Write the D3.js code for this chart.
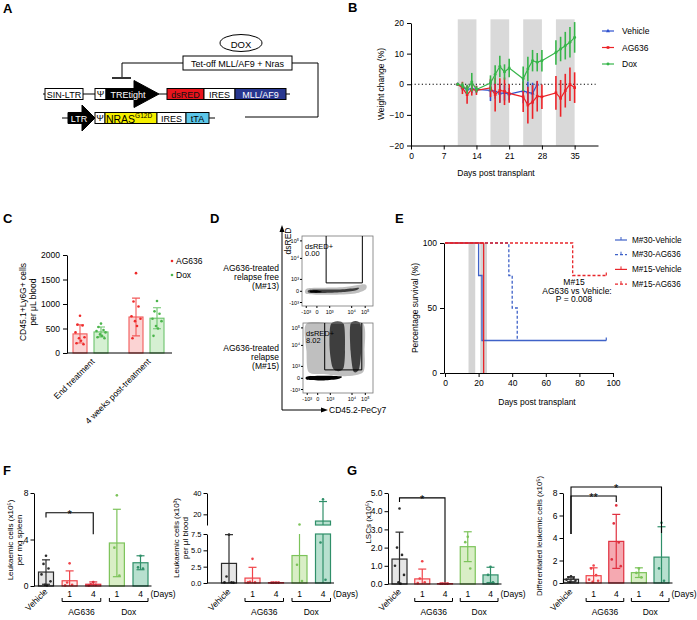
<!DOCTYPE html>
<html lang="en">
<head>
<meta charset="utf-8">
<title>Figure</title>
<script src="https://cdn.jsdelivr.net/npm/d3@7/dist/d3.min.js"></script>
<style>
  body { margin: 0; background: #fff; }
  svg { font-family: "Liberation Sans", Arial, sans-serif; }
</style>
</head>
<body>
<script>
// ---------- B: weight change ----------
var bBands = [[10, 14], [17, 21], [24, 28], [31, 35]];
var vehDays = [10, 11, 12, 13, 14, 17, 18, 19, 20, 21, 24, 25, 26, 27];
var vehMean = [0, -1, -1.7, -1.4, -1.7, -2, -2.2, -3, -2.8, -3.2, -2.2, -2.6, -3, 0];
var vehSd   = [0.4, 1, 1.2, 1.5, 1.2, 3.5, 2.5, 3, 2.5, 2, 4, 3.5, 3.5, 1];
var trtDays = [10, 11, 12, 13, 14, 17, 18, 19, 20, 21, 24, 25, 26, 27, 28, 31, 32, 33, 34, 35];
var agMean  = [0, -1.2, -3.4, -1.7, -2, -1.2, -3.4, -2, -2.3, -3, -4.1, -6.8, -5.8, -3.9, -4.1, -2.8, -4.6, -2.1, 0, -1.1];
var agSd    = [0.4, 2, 3, 2, 1.5, 3, 5.5, 4, 4.5, 3, 5, 6, 5.5, 5, 4, 5.5, 6, 5.5, 5.5, 5];
var doxMean = [0, -0.4, -1.7, 0.7, -1.7, 0.4, 3.2, 5.8, 4, 5.3, 1.8, 5, 7.7, 7.2, 7.7, 10.4, 11.5, 12.6, 13.7, 15.3];
var doxSd   = [0.4, 1, 1.5, 3, 1, 2.5, 3, 3.5, 2.5, 3, 4, 4, 3.5, 3, 3.5, 4, 4, 4.5, 5, 5];

// ---------- C: CD45.1+Ly6G+ cells ----------
var cGroups = ["End treatment", "4 weeks post-treatment"];
var cAgMean = [390, 735];
var cAgSd = [185, 385];
var cDoxMean = [430, 710];
var cDoxSd = [100, 215];
var cAgPts = [[760, 580, 560, 420, 320, 300, 250, 200, 180], [1630, 1050, 950, 750, 700, 650, 550, 300]];
var cDoxPts = [[600, 530, 470, 450, 420, 380, 350, 320, 300], [1060, 850, 800, 700, 650, 550, 500, 350]];

// ---------- D: flow plots (outlines of the dot clouds, as fractions of each plot) ----------
var flowTickLabels = ["-10³", "0", "10³", "10⁴", "10⁵"];
var flowTickY = [0.05, 0.21, 0.38, 0.68, 0.93];
var flowTickX = [0.06, 0.21, 0.39, 0.70, 0.89];
var flowNames = [["AG636-treated", "relapse free", "(M#13)"], ["AG636-treated", "relapse", "(M#15)"]];
var flowPct = ["0.00", "8.02"];
var flowGateX = [[0.34, 0.85], [0.31, 0.84]];
var flowGateY = [0.33, 0.33];
var flowHalo = [
  [[[0.07, 0.17], [0.4, 0.16], [0.75, 0.18], [0.9, 0.24], [0.88, 0.31], [0.6, 0.27], [0.3, 0.26], [0.07, 0.25]]],
  [[[0.05, 0.99], [0.5, 0.99], [0.86, 0.99], [0.88, 0.6], [0.86, 0.3], [0.6, 0.24], [0.3, 0.27], [0.08, 0.3], [0.05, 0.6]]]
];
var flowCore = [
  [[[0.1, 0.19], [0.3, 0.185], [0.55, 0.195], [0.75, 0.22], [0.8, 0.26], [0.6, 0.24], [0.3, 0.235], [0.1, 0.23]]],
  [[[0.4, 0.99], [0.58, 0.99], [0.6, 0.6], [0.58, 0.36], [0.5, 0.31], [0.42, 0.37], [0.38, 0.65]],
   [[0.68, 0.99], [0.82, 0.99], [0.83, 0.6], [0.8, 0.34], [0.72, 0.31], [0.68, 0.6]]]
];
var flowStreak = [
  [[0.12, 0.195], [0.2, 0.19], [0.28, 0.2], [0.2, 0.225], [0.12, 0.22]],
  [[0.06, 0.19], [0.3, 0.18], [0.5, 0.2], [0.55, 0.235], [0.3, 0.245], [0.06, 0.235]]
];

// ---------- E: survival ----------
var eNames = ["M#30-Vehicle", "M#30-AG636", "M#15-Vehicle", "M#15-AG636"];
var eDays = [[0, 20, 22, 96], [0, 38, 40, 43], [0, 23], [0, 76, 96]];
var eSurv = [[100, 75, 25, 25], [100, 75, 50, 25], [100, 0], [100, 75, 75]];
var eBands = [[14, 18], [21, 25]];

// ---------- F, G ----------
var fgGroups = ["Vehicle", "AG636-1", "AG636-4", "Dox-1", "Dox-4"];
var fgDayLabels = ["", "1", "4", "1", "4"];
var fSpleenMean = [1.2, 0.45, 0.15, 3.7, 2.0];
var fSpleenSd = [1.05, 0.85, 0.2, 2.9, 0.6];
var fSpleenPts = [[2.6, 1.9, 1.5, 1.0, 0.4, 0.1, 0.05], [1.95, 0.3, 0.1, 0.05], [0.35, 0.15, 0.1, 0.05], [7.8, 3.3, 0.9], [2.6, 1.6, 1.5]];
var fBloodMean = [3.0, 0.75, 0.05, 4.2, 13.7];
var fBloodSd = [4.4, 1.65, 0.05, 4.8, 18.3];
var fBloodPts = [[7.4, 1.0, 0.1, 0.1, 0.05], [3.7, 0.2, 0.1, 0.1], [0.05, 0.05, 0.05, 0.05], [10.5, 2.8, 0.3], [34, 6.2, 0.5]];
var gLscMean = [1.37, 0.28, 0.02, 2.05, 0.5];
var gLscSd = [1.48, 0.54, 0.02, 0.82, 0.42];
var gLscPts = [[4.15, 2.0, 1.6, 1.0, 0.5, 0.1, 0.02], [1.25, 0.3, 0.1, 0.05], [0.02, 0.02, 0.02, 0.02], [2.6, 2.3, 0.85], [0.95, 0.5, 0.1]];
var gDiffMean = [0.33, 0.65, 3.7, 0.92, 2.3];
var gDiffSd = [0.22, 0.7, 2.4, 0.43, 2.7];
var gDiffPts = [[0.6, 0.5, 0.45, 0.3, 0.2, 0.1], [1.55, 1.3, 0.7, 0.3, 0.2, 0.1], [6.9, 5.3, 3.6, 2.1, 1.5], [1.3, 0.9, 0.5], [5.35, 1.3, 0.2]];

var barFill = ["#e6e6e6", "#fdeaea", "#f5a9b1", "#d9eec6", "#b8e0cf"];
var barStroke = ["#2b2b2b", "#f0444a", "#e0303f", "#7cc35a", "#2f8f69"];
var jitter = [0, -2.5, 2.5, -4.5, 4.5, -1, 1, -3.5, 3.5];

var svg = d3.select("body").append("svg").attr("width", 697).attr("height", 620);

function text(x, y, s, size, anchor, g) {
  return (g || svg).append("text").attr("x", x).attr("y", y).attr("font-size", size || 8.5)
    .attr("text-anchor", anchor || "start").attr("dominant-baseline", "central").text(s);
}
function vtext(x, y, s, size) {
  return svg.append("text").attr("transform", "translate(" + x + "," + y + ") rotate(-90)")
    .attr("font-size", size || 8.5).attr("text-anchor", "middle").attr("dominant-baseline", "central").text(s);
}
function styleAxis(g, size) {
  g.attr("font-size", size || 8).attr("font-family", null);
  g.selectAll("path,line").attr("stroke", "#000");
  g.selectAll("text").attr("fill", "#000");
}
function panelLetter(x, y, s) {
  svg.append("text").attr("x", x).attr("y", y).attr("font-size", 13).attr("font-weight", "bold").text(s);
}

// ================= A: constructs =================
panelLetter(3, 13, "A");
var A = svg.append("g").attr("stroke", "#000").attr("stroke-width", 1);
A.append("ellipse").attr("cx", 241).attr("cy", 43).attr("rx", 21).attr("ry", 8.5).attr("fill", "#fff");
text(241, 44, "DOX", 9.5, "middle");
A.append("rect").attr("x", 183).attr("y", 56).attr("width", 109).attr("height", 14).attr("fill", "#fff");
text(237.5, 63.5, "Tet-off MLL/AF9 + Nras", 9, "middle");
A.append("path").attr("d", "M183,63H122V77").attr("fill", "none");
A.append("path").attr("d", "M112,78H131").attr("stroke-width", 1.6);
A.append("path").attr("d", "M292,63H318V117H245").attr("fill", "none");
// row 1
A.append("path").attr("d", "M43,94H95M159,94H167M286,94H290");
A.append("rect").attr("x", 45).attr("y", 88.5).attr("width", 38).attr("height", 11).attr("fill", "#fff");
text(64, 94.5, "SIN-LTR", 9, "middle");
A.append("rect").attr("x", 95).attr("y", 88.5).attr("width", 11).attr("height", 11).attr("fill", "#fff");
text(100.5, 94, "Ψ", 9, "middle");
A.append("path").attr("d", "M106,88.5H134V80.5L159,94L134,107.5V99.5H106Z").attr("fill", "#000");
text(128, 94.5, "TREtight", 9, "middle").attr("fill", "#fff");
A.append("rect").attr("x", 167).attr("y", 88.5).attr("width", 37).attr("height", 11).attr("fill", "#e8141c");
text(185.5, 94.5, "dsRED", 9, "middle").attr("fill", "#111");
A.append("rect").attr("x", 204).attr("y", 88.5).attr("width", 31).attr("height", 11).attr("fill", "#fff");
text(219.5, 94.5, "IRES", 9, "middle");
A.append("rect").attr("x", 235).attr("y", 88.5).attr("width", 51).attr("height", 11).attr("fill", "#28378f");
text(260.5, 94.5, "MLL/AF9", 9, "middle").attr("fill", "#fff");
// row 2
A.append("path").attr("d", "M62,118H70M209,118H215");
A.append("path").attr("d", "M68,112.5H82V105L95,118L82,131V123.5H68Z").attr("fill", "#000");
text(79, 118.5, "LTR", 9, "middle").attr("fill", "#fff");
A.append("rect").attr("x", 95).attr("y", 112.5).attr("width", 10).attr("height", 11).attr("fill", "#fff");
text(100, 118, "Ψ", 9, "middle");
A.append("rect").attr("x", 105).attr("y", 112.5).attr("width", 52).attr("height", 11).attr("fill", "#f5ef00");
var nras = text(129, 118.8, "NRAS", 10.5, "middle");
nras.append("tspan").attr("font-size", 6.5).attr("dy", -3.5).text("G12D");
A.append("rect").attr("x", 157).attr("y", 112.5).attr("width", 29).attr("height", 11).attr("fill", "#fff");
text(171.5, 118.5, "IRES", 9, "middle");
A.append("rect").attr("x", 186).attr("y", 112.5).attr("width", 23).attr("height", 11).attr("fill", "#5cc6e8");
text(197.5, 118.5, "tTA", 9, "middle");

// ================= B: weight change =================
panelLetter(348, 12, "B");
var xB = d3.scaleLinear().domain([0, 40]).range([411, 598]);
var yB = d3.scaleLinear().domain([-20, 20]).range([145.5, 23]);
svg.append("g").selectAll("rect").data(bBands).join("rect")
  .attr("x", function(d) { return xB(d[0]); }).attr("width", function(d) { return xB(d[1]) - xB(d[0]); })
  .attr("y", yB(21.2)).attr("height", yB(-20) - yB(21.2)).attr("fill", "#d9d9d9");
svg.append("line").attr("x1", xB(0)).attr("x2", xB(39.5)).attr("y1", yB(0)).attr("y2", yB(0))
  .attr("stroke", "#000").attr("stroke-width", 1.2).attr("stroke-dasharray", "1.2,2.4");
var bSeries = [
  {name: "Vehicle", days: vehDays, mean: vehMean, sd: vehSd, color: "#2f52cf", sym: d3.symbolTriangle},
  {name: "AG636", days: trtDays, mean: agMean, sd: agSd, color: "#ec2227", sym: d3.symbolSquare},
  {name: "Dox", days: trtDays, mean: doxMean, sd: doxSd, color: "#37b54a", sym: d3.symbolCircle}
];
bSeries.forEach(function(s) {
  var g = svg.append("g");
  s.days.forEach(function(d, i) {
    g.append("line").attr("x1", xB(d)).attr("x2", xB(d))
      .attr("y1", yB(s.mean[i] - s.sd[i])).attr("y2", yB(s.mean[i] + s.sd[i]))
      .attr("stroke", s.color).attr("stroke-width", 1.6);
  });
  var line = d3.line().x(function(d, i) { return xB(d); }).y(function(d, i) { return yB(s.mean[i]); });
  g.append("path").attr("d", line(s.days)).attr("fill", "none").attr("stroke", s.color).attr("stroke-width", 1.2);
  g.selectAll("path.m").data(s.days).join("path").attr("class", "m")
    .attr("transform", function(d, i) { return "translate(" + xB(d) + "," + yB(s.mean[i]) + ")"; })
    .attr("d", d3.symbol().type(s.sym).size(7)).attr("fill", s.color);
});
styleAxis(svg.append("g").attr("transform", "translate(411,0)")
  .call(d3.axisLeft(yB).tickValues([-20, -10, 0, 10, 20]).tickSize(4).tickSizeOuter(0)), 8.5);
styleAxis(svg.append("g").attr("transform", "translate(0,145.5)")
  .call(d3.axisBottom(xB).tickValues([0, 7, 14, 21, 28, 35]).tickSize(4).tickSizeOuter(0)), 8.5);
text(496, 173, "Days post transplant", 8.5, "middle");
vtext(381, 84, "Weight change (%)");
bSeries.forEach(function(s, i) {
  var y = 31 + i * 16.5;
  svg.append("line").attr("x1", 602).attr("x2", 614).attr("y1", y).attr("y2", y).attr("stroke", s.color).attr("stroke-width", 1.2);
  svg.append("path").attr("transform", "translate(608," + y + ")").attr("d", d3.symbol().type(s.sym).size(7)).attr("fill", s.color);
  text(622, y, s.name, 8.5);
});

// ================= C: bars =================
panelLetter(3, 223, "C");
var yC = d3.scaleLinear().domain([0, 2000]).range([353, 255]);
var xC = d3.scalePoint().domain(cGroups).range([90.5, 146.5]);
var cSets = [
  {mean: cAgMean, sd: cAgSd, pts: cAgPts, off: -10.5, fill: "#fbd3d3", stroke: "#f25a5a", dot: "#ee2a2a", name: "AG636"},
  {mean: cDoxMean, sd: cDoxSd, pts: cDoxPts, off: 10.5, fill: "#d5f0d2", stroke: "#6cc36c", dot: "#4cb54c", name: "Dox"}
];
cSets.forEach(function(s) {
  cGroups.forEach(function(gName, i) {
    var cx = xC(gName) + s.off;
    svg.append("rect").attr("x", cx - 7).attr("y", yC(s.mean[i])).attr("width", 14)
      .attr("height", yC(0) - yC(s.mean[i])).attr("fill", s.fill).attr("stroke", s.stroke).attr("stroke-width", 1.1);
    var lo = yC(s.mean[i] - s.sd[i]), hi = yC(s.mean[i] + s.sd[i]);
    svg.append("path").attr("d", "M" + cx + "," + lo + "V" + hi + "M" + (cx - 4) + "," + hi + "H" + (cx + 4) + "M" + (cx - 4) + "," + lo + "H" + (cx + 4))
      .attr("stroke", s.stroke).attr("stroke-width", 1.1).attr("fill", "none");
    s.pts[i].forEach(function(v, j) {
      svg.append("circle").attr("cx", cx + jitter[j % jitter.length]).attr("cy", yC(v)).attr("r", 1.3).attr("fill", s.dot);
    });
  });
});
styleAxis(svg.append("g").attr("transform", "translate(67,0)")
  .call(d3.axisLeft(yC).tickValues([0, 500, 1000, 1500, 2000]).tickFormat(d3.format("d")).tickSize(4).tickSizeOuter(0)), 8.5);
svg.append("line").attr("x1", 67).attr("x2", 172).attr("y1", 353).attr("y2", 353).attr("stroke", "#000");
cGroups.forEach(function(gName) {
  svg.append("text").attr("transform", "translate(" + (xC(gName) + 2.5) + ",360) rotate(-45)")
    .attr("font-size", 8.5).attr("text-anchor", "end").attr("dominant-baseline", "central").text(gName);
});
vtext(23, 302, "CD45.1+Ly6G+ cells");
vtext(33, 302, "per μL blood");
cSets.forEach(function(s, i) {
  svg.append("circle").attr("cx", 172).attr("cy", 261 + i * 14).attr("r", 1.3).attr("fill", s.dot);
  text(176, 261 + i * 14, s.name, 8.5);
});

// ================= D: flow =================
panelLetter(210, 223, "D");
var flowBoxes = [{x0: 302, x1: 373, y0: 236, y1: 306}, {x0: 303, x1: 373, y0: 323, y1: 393}];
var flowLabelY = [268, 348];
flowBoxes.forEach(function(b, k) {
  var fx = d3.scaleLinear().domain([0, 1]).range([b.x0, b.x1]);
  var fy = d3.scaleLinear().domain([0, 1]).range([b.y1, b.y0]);
  var blob = d3.line().x(function(d) { return fx(d[0]); }).y(function(d) { return fy(d[1]); })
    .curve(d3.curveCardinalClosed.tension(0.2));
  flowHalo[k].forEach(function(p) { svg.append("path").attr("d", blob(p)).attr("fill", "#8a8a8a").attr("opacity", 0.55); });
  flowCore[k].forEach(function(p) { svg.append("path").attr("d", blob(p)).attr("fill", "#1e1e1e").attr("opacity", 0.8); });
  svg.append("path").attr("d", blob(flowStreak[k])).attr("fill", "#000");
  svg.append("rect").attr("x", b.x0).attr("y", b.y0).attr("width", b.x1 - b.x0).attr("height", b.y1 - b.y0)
    .attr("fill", "none").attr("stroke", "#777").attr("stroke-width", 0.8);
  svg.append("path").attr("d", "M" + fx(flowGateX[k][0]) + "," + fy(1) + "V" + fy(flowGateY[k]) + "H" + fx(flowGateX[k][1]) + "V" + fy(1))
    .attr("fill", "none").attr("stroke", "#000").attr("stroke-width", 1);
  var lab = svg.append("g");
  lab.append("text").attr("x", b.x0 + 3).attr("y", b.y0 + 12.5).attr("font-size", 7.5).text("dsRED+");
  lab.append("text").attr("x", b.x0 + 3).attr("y", b.y0 + 20).attr("font-size", 7.5).text(flowPct[k]);
  flowTickY.forEach(function(t, i) {
    svg.append("line").attr("x1", b.x0 - 2).attr("x2", b.x0).attr("y1", fy(t)).attr("y2", fy(t)).attr("stroke", "#000");
    text(b.x0 - 3, fy(t), flowTickLabels[i], 5.5, "end");
  });
  flowTickX.forEach(function(t, i) {
    svg.append("line").attr("x1", fx(t)).attr("x2", fx(t)).attr("y1", b.y1).attr("y2", b.y1 + 2).attr("stroke", "#000");
    text(fx(t), b.y1 + 6, flowTickLabels[i], 5.5, "middle");
  });
  flowNames[k].forEach(function(s, i) { text(279, flowLabelY[k] + i * 9, s, 8.5, "end"); });
});
svg.append("path").attr("d", "M282,410V231M282,410H322").attr("stroke", "#000").attr("fill", "none");
svg.append("path").attr("d", "M279.5,232L282,225L284.5,232Z M321,407.5L328,410L321,412.5Z").attr("fill", "#000");
vtext(288, 241, "dsRED", 8.5);
text(329, 410, "CD45.2-PeCy7", 8.5);

// ================= E: survival =================
panelLetter(395, 223, "E");
var xE = d3.scaleLinear().domain([0, 100]).range([445, 613]);
var yE = d3.scaleLinear().domain([0, 100]).range([373, 243]);
svg.append("g").selectAll("rect").data(eBands).join("rect")
  .attr("x", function(d) { return xE(d[0]); }).attr("width", function(d) { return xE(d[1]) - xE(d[0]); })
  .attr("y", yE(100)).attr("height", yE(0) - yE(100)).attr("fill", "#d4d4d4");
var eColor = ["#3f62c8", "#3f62c8", "#e8262b", "#e8262b"];
var eDash = [null, "3,2", null, "3,2"];
[1, 0, 3, 2].forEach(function(k) {
  var line = d3.line().curve(d3.curveStepAfter)
    .x(function(d) { return xE(d); }).y(function(d, i) { return yE(eSurv[k][i]); });
  svg.append("path").attr("d", line(eDays[k])).attr("fill", "none").attr("stroke", eColor[k])
    .attr("stroke-width", 1.3).attr("stroke-dasharray", eDash[k]);
});
[0, 3].forEach(function(k) {
  var n = eDays[k].length - 1;
  svg.append("line").attr("x1", xE(eDays[k][n])).attr("x2", xE(eDays[k][n]))
    .attr("y1", yE(eSurv[k][n])).attr("y2", yE(eSurv[k][n]) - 3).attr("stroke", eColor[k]).attr("stroke-width", 1.2);
});
styleAxis(svg.append("g").attr("transform", "translate(444,0)")
  .call(d3.axisLeft(yE).tickValues([0, 50, 100]).tickSize(4).tickSizeOuter(0)), 8.5);
styleAxis(svg.append("g").attr("transform", "translate(0,373)")
  .call(d3.axisBottom(xE).tickValues([0, 20, 40, 60, 80, 100]).tickSize(4).tickSizeOuter(0)), 8.5);
svg.append("line").attr("x1", 444).attr("x2", 445).attr("y1", 373).attr("y2", 373).attr("stroke", "#000");
text(537, 402, "Days post transplant", 8.5, "middle");
vtext(415, 308, "Percentage survival (%)");
eNames.forEach(function(s, k) {
  var y = 240 + k * 14.7;
  svg.append("line").attr("x1", 615).attr("x2", 627).attr("y1", y).attr("y2", y)
    .attr("stroke", eColor[k]).attr("stroke-width", 1.2).attr("stroke-dasharray", eDash[k]);
  svg.append("line").attr("x1", 621).attr("x2", 621).attr("y1", y).attr("y2", y - 3).attr("stroke", eColor[k]);
  text(632, y, s, 8.2);
});
text(574, 282, "M#15", 8.5, "middle");
text(577, 290.5, "AG636 vs Vehicle:", 8.5, "middle");
text(574, 299, "P = 0.008", 8.5, "middle");

// ================= F, G: bar charts =================
function barChart(cfg) {
  var x = d3.scalePoint().domain(fgGroups).range(cfg.range);
  var segs = cfg.segs.map(function(s) { return d3.scaleLinear().domain(s[0]).range(s[1]); });
  var w = 15;
  fgGroups.forEach(function(gName, i) {
    var cx = x(gName), m = cfg.mean[i], sd = cfg.sd[i];
    segs.forEach(function(y) {
      var d = y.domain(), lo = Math.max(d[0], 0), hi = Math.min(d[1], m);
      if (hi > lo) {
        svg.append("rect").attr("x", cx - w / 2).attr("y", y(hi)).attr("width", w).attr("height", y(lo) - y(hi))
          .attr("fill", barFill[i]).attr("stroke", barStroke[i]).attr("stroke-width", 1.2);
      }
    });
    var e0 = Math.max(m - sd, 0), e1 = m + sd;
    segs.forEach(function(y) {
      var d = y.domain(), a = Math.max(d[0], e0), b = Math.min(d[1], e1);
      if (b > a) {
        svg.append("line").attr("x1", cx).attr("x2", cx).attr("y1", y(a)).attr("y2", y(b))
          .attr("stroke", barStroke[i]).attr("stroke-width", 1.2);
      }
      [e0, e1].forEach(function(v) {
        if (v > 0 && v >= d[0] && v <= d[1]) {
          svg.append("line").attr("x1", cx - 4).attr("x2", cx + 4).attr("y1", y(v)).attr("y2", y(v))
            .attr("stroke", barStroke[i]).attr("stroke-width", 1.2);
        }
      });
    });
    cfg.pts[i].forEach(function(v, j) {
      segs.forEach(function(y) {
        var d = y.domain();
        if (v >= d[0] && v <= d[1]) {
          svg.append("circle").attr("cx", cx + jitter[j % jitter.length]).attr("cy", y(v)).attr("r", 1.3).attr("fill", barStroke[i]);
        }
      });
    });
  });
  // axes
  segs.forEach(function(y, k) {
    var ax = d3.axisLeft(y).tickValues(cfg.ticks[k]).tickSize(3.5).tickPadding(2).tickSizeOuter(0);
    if (cfg.fmt) ax.tickFormat(cfg.fmt[k]);
    styleAxis(svg.append("g").attr("transform", "translate(" + cfg.axisX + ",0)").call(ax), cfg.tickFont || 8.5);
  });
  var y0 = segs[0](0);
  svg.append("line").attr("x1", cfg.axisX).attr("x2", cfg.range[1] + 11).attr("y1", y0).attr("y2", y0).attr("stroke", "#000");
  // category labels
  svg.append("text").attr("transform", "translate(" + x("Vehicle") + ",590) rotate(-45)")
    .attr("font-size", 8.5).attr("text-anchor", "end").attr("dominant-baseline", "central").text("Vehicle");
  fgGroups.forEach(function(gName, i) { if (i) text(x(gName), 594, fgDayLabels[i], 8.5, "middle"); });
  text(cfg.range[1] + 10, 594, "(Days)", 8.5);
  [["AG636-1", "AG636-4", "AG636"], ["Dox-1", "Dox-4", "Dox"]].forEach(function(p) {
    var a = x(p[0]) - 7.5, b = x(p[1]) + 7.5;
    svg.append("path").attr("d", "M" + a + ",598V601.5H" + b + "V598").attr("fill", "none").attr("stroke", "#000");
    text((a + b) / 2, 612, p[2], 8.5, "middle");
  });
  // significance brackets
  (cfg.sig || []).forEach(function(s) {
    var y = segs[0];
    var a = x("Vehicle"), b = x(s.to);
    svg.append("path").attr("d", "M" + a + "," + y(s.yFrom) + "V" + y(s.y) + "H" + b + "V" + y(s.yTo))
      .attr("fill", "none").attr("stroke", "#000").attr("stroke-width", 1.1);
    svg.append("text").attr("x", (a + b) / 2).attr("y", y(s.y) + 5).attr("font-size", 11)
      .attr("text-anchor", "middle").text(s.label);
  });
  return x;
}

panelLetter(3, 475, "F");
barChart({range: [46, 140.5], axisX: 34, segs: [[[0, 8], [586, 493]]], ticks: [[0, 4, 8]],
  mean: fSpleenMean, sd: fSpleenSd, pts: fSpleenPts,
  sig: [{to: "AG636-4", y: 6.3, yFrom: 5.9, yTo: 4.45, label: "*"}]});
vtext(10, 540, "Leukaemic cells (x10⁵)", 8);
vtext(19.5, 540, "per mg spleen", 8);

barChart({range: [229, 323], axisX: 207, segs: [[[0, 7.5], [583, 534]], [[10, 40], [525, 493]]],
  ticks: [[0, 2.5, 5, 7.5], [20, 40]], fmt: [d3.format(".1f"), d3.format("d")], tickFont: 7.5,
  mean: fBloodMean, sd: fBloodSd, pts: fBloodPts});
vtext(176, 538, "Leukaemic cells (x10³)", 8);
vtext(185, 538, "per μl blood", 8);

panelLetter(347, 475, "G");
barChart({range: [399.5, 490.5], axisX: 388, segs: [[[0, 5], [584, 493]]], ticks: [[0, 1, 2, 3, 4, 5]],
  mean: gLscMean, sd: gLscSd, pts: gLscPts,
  sig: [{to: "AG636-4", y: 4.73, yFrom: 4.5, yTo: 0.1, label: "*"}]});
vtext(368, 522, "LSCs (x10⁵)", 8);

barChart({range: [571, 661.5], axisX: 563, segs: [[[0, 8], [583, 493]]], ticks: [[0, 2, 4, 6, 8]],
  mean: gDiffMean, sd: gDiffSd, pts: gDiffPts,
  sig: [{to: "AG636-4", y: 7.73, yFrom: 4.35, yTo: 7.2, label: "**"},
        {to: "Dox-4", y: 8.53, yFrom: 4.35, yTo: 4.45, label: "*"}]});
vtext(539, 536, "Differentiated leukemic cells (x10⁵)", 7.8);
</script>
</body>
</html>
